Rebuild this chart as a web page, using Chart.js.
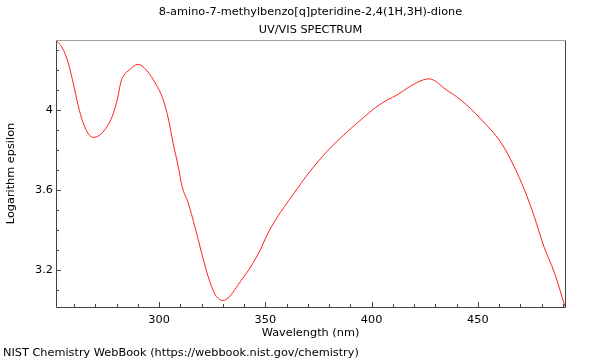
<!DOCTYPE html>
<html>
<head>
<meta charset="utf-8">
<script src="https://cdn.jsdelivr.net/npm/chart.js@4"></script>
<style>
  body { margin: 0; background: #fff; }
</style>
</head>
<body>
<canvas id="chart" width="600" height="360"></canvas>
<script>
// spectrum
const wavelength = [
  251.5, 254.5, 257, 259.5, 262, 264, 266.5, 269, 272, 275, 278, 280.5, 282,
  283.5, 286, 290, 294, 298.5, 302, 304.5, 306.5, 309, 310.8, 313.7, 316.8,
  320, 323, 326.3, 328.5, 330, 331.5, 333.4, 337.3, 342.8, 347.5, 350.7, 355,
  363, 371, 379, 387, 395, 402.5, 407.5, 412, 418, 424.5, 427, 430, 434, 442,
  451, 461, 467, 472, 476.5, 481, 486, 491,
];
const logEpsilon = [
  4.35, 4.31, 4.245, 4.14, 4.02, 3.945, 3.885, 3.864, 3.875, 3.91, 3.97, 4.06,
  4.14, 4.175, 4.2, 4.229, 4.2, 4.13, 4.05, 3.95, 3.84, 3.72, 3.62, 3.537, 3.42,
  3.288, 3.172, 3.081, 3.055, 3.05, 3.055, 3.072, 3.13, 3.213, 3.3, 3.375,
  3.455, 3.578, 3.694, 3.794, 3.877, 3.952, 4.018, 4.051, 4.076, 4.118, 4.152,
  4.156, 4.145, 4.11, 4.051, 3.96, 3.836, 3.72, 3.6, 3.47, 3.321, 3.189, 3.02,
];
const xLabels = [300, 350, 400, 450];
const yLabels = [3.2, 3.6, 4];
const titleLines = ["8-amino-7-methylbenzo[q]pteridine-2,4(1H,3H)-dione", "UV/VIS SPECTRUM"];
const source = "NIST Chemistry WebBook (https://webbook.nist.gov/chemistry)";

const font = { family: "DejaVu Sans", size: 11.3 };

// inward ticks, frame, titles over the plot and source line
const framePlugin = {
  id: "frame",
  afterDraw(c) {
    const { ctx, chartArea: a, scales } = c;
    const x = scales.x;
    const y = scales.y;
    ctx.save();
    ctx.lineWidth = 1;
    ctx.strokeStyle = "#444";
    ctx.beginPath();
    x.ticks.forEach((t) => {
      const px = Math.round(x.getPixelForValue(t.value)) + 0.5;
      const len = xLabels.includes(Math.round(t.value)) ? 5 : 3;
      ctx.moveTo(px, a.bottom);
      ctx.lineTo(px, a.bottom - len);
    });
    y.ticks.forEach((t) => {
      const py = Math.round(y.getPixelForValue(t.value)) + 0.5;
      const big = yLabels.some((v) => Math.abs(v - t.value) < 1e-6);
      ctx.moveTo(a.left, py);
      ctx.lineTo(a.left + (big ? 5 : 3), py);
    });
    ctx.stroke();

    // left, bottom, right
    ctx.beginPath();
    ctx.moveTo(a.left + 0.5, a.top);
    ctx.lineTo(a.left + 0.5, a.bottom + 0.5);
    ctx.lineTo(a.right + 0.5, a.bottom + 0.5);
    ctx.lineTo(a.right + 0.5, a.top);
    ctx.stroke();
    // top
    ctx.strokeStyle = "#a0a0a0";
    ctx.beginPath();
    ctx.moveTo(a.left, a.top + 0.5);
    ctx.lineTo(a.right + 1, a.top + 0.5);
    ctx.stroke();

    ctx.fillStyle = "#000";
    ctx.font = font.size + "px 'DejaVu Sans'";
    ctx.textBaseline = "middle";
    ctx.textAlign = "center";
    const cx = (a.left + a.right) / 2;
    ctx.fillText(titleLines[0], cx, 12.5);
    ctx.fillText(titleLines[1], cx, 30);
    ctx.textAlign = "left";
    ctx.fillText(source, 3, 353);
    ctx.restore();
  },
};

new Chart(document.querySelector("#chart").getContext("2d"), {
  type: "line",
  data: {
    datasets: [
      {
        data: wavelength.map((w, i) => ({ x: w, y: logEpsilon[i] })),
        borderColor: "#ff2020",
        borderWidth: 1,
        pointRadius: 0,
        cubicInterpolationMode: "monotone",
      },
    ],
  },
  options: {
    responsive: false,
    animation: false,
    devicePixelRatio: 1,
    layout: { padding: { left: 0, right: 35, top: 40, bottom: 0 } },
    plugins: {
      legend: { display: false },
      tooltip: { enabled: false },
      title: { display: false },
    },
    scales: {
      x: {
        type: "linear",
        min: 251.5,
        max: 491,
        afterFit: (s) => { s.height = 53; },
        grid: { display: false, drawTicks: false },
        border: { display: false },
        ticks: {
          stepSize: 10,
          includeBounds: false,
          autoSkip: false,
          maxRotation: 0,
          padding: 6,
          color: "#000",
          font: font,
          callback: (v) => (xLabels.includes(Math.round(v)) ? String(Math.round(v)) : ""),
        },
        title: {
          display: true,
          text: "Wavelength (nm)",
          color: "#000",
          font: font,
          padding: { top: 0, bottom: 20 },
        },
      },
      y: {
        min: 3.0175,
        max: 4.35,
        afterFit: (s) => { s.width = 56; },
        grid: { display: false, drawTicks: false },
        border: { display: false },
        ticks: {
          stepSize: 0.1,
          includeBounds: false,
          autoSkip: false,
          padding: 3,
          color: "#000",
          font: font,
          callback: (v) => {
            const hit = yLabels.find((l) => Math.abs(l - v) < 1e-6);
            return hit === undefined ? "" : String(hit);
          },
        },
        title: {
          display: true,
          text: "Logarithm epsilon",
          color: "#000",
          font: font,
          padding: { top: 4, bottom: 0 },
        },
      },
    },
  },
  plugins: [framePlugin],
});
</script>
</body>
</html>
